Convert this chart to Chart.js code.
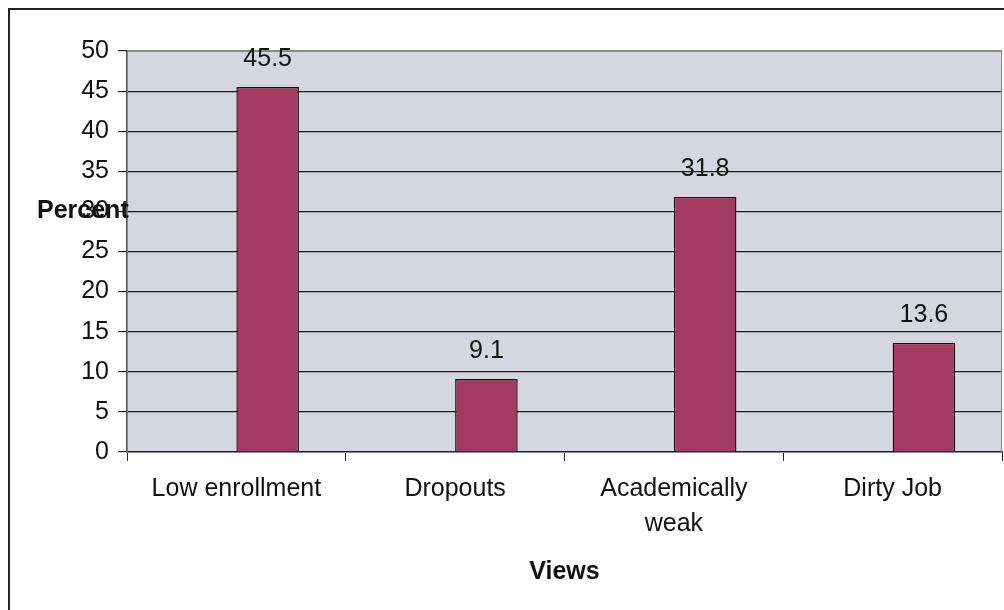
<!DOCTYPE html>
<html>
<head>
<meta charset="utf-8">
<script src="https://cdn.jsdelivr.net/npm/chart.js@4/dist/chart.umd.min.js"></script>
<style>
  html, body { margin: 0; padding: 0; background: #fff; }
  #wrap { position: relative; width: 1004px; height: 610px; overflow: hidden; }
  #frame { position: absolute; left: 8px; top: 8px; width: 1010px; height: 620px;
           border-left: 2px solid #222; border-top: 2px solid #222; box-sizing: border-box; }
  canvas { position: absolute; left: 0; top: 0; }
</style>
</head>
<body>
<div id="wrap">
  <div id="frame"></div>
  <canvas id="chart" width="1004" height="610"></canvas>
</div>
<script>
// values
const categories = ["Low enrollment", "Dropouts", ["Academically", "weak"], "Dirty Job"];
const percents = [45.5, 9.1, 31.8, 13.6];
// the original has an empty first series, which pushes the bars right of centre
const emptySeries = [null, null, null, null];
const yTicks = [0, 5, 10, 15, 20, 25, 30, 35, 40, 45, 50];

const FONT = "'Liberation Sans', Arial, sans-serif";

// gray plot area, axis titles and the numbers on top of the bars
let extras = {
  id: 'extras',
  beforeDatasetsDraw(chart) {
    let {ctx, chartArea: a} = chart;
    ctx.save();
    ctx.strokeStyle = '#8a8a8a';
    ctx.lineWidth = 1;
    ctx.strokeRect(a.left, a.top + 0.5, a.right - a.left - 0.5, a.bottom - a.top);
    ctx.restore();
  },
  beforeDraw(chart) {
    let {ctx, chartArea: a} = chart;
    ctx.save();
    ctx.fillStyle = '#d6d6e0';
    ctx.fillRect(a.left, a.top, a.right - a.left, a.bottom - a.top);
    ctx.restore();
  },
  afterDraw(chart) {
    let ctx = chart.ctx;
    let y = chart.scales.y;
    ctx.save();
    ctx.fillStyle = '#111';
    ctx.font = '25px ' + FONT;
    ctx.textAlign = 'center';
    ctx.textBaseline = 'middle';
    let meta = chart.getDatasetMeta(1);
    meta.data.forEach((bar, i) => {
      ctx.fillText(percents[i].toFixed(1), bar.x, bar.y - 28);
    });
    ctx.font = 'bold 25px ' + FONT;
    ctx.textAlign = 'left';
    ctx.fillText('Percent', 37, y.getPixelForValue(30));
    ctx.textAlign = 'center';
    let a = chart.chartArea;
    ctx.fillText('Views', (a.left + a.right) / 2, 572);
    ctx.restore();
  }
};

new Chart(document.getElementById('chart'), {
  type: 'bar',
  data: {
    labels: categories,
    datasets: [
      {label: 'empty', data: emptySeries},
      {
        label: 'Percent',
        data: percents,
        backgroundColor: '#a33a63',
        borderColor: '#111',
        borderWidth: 1.4
      }
    ]
  },
  options: {
    responsive: false,
    animation: false,
    events: [],
    layout: {padding: {left: 0, top: 51, right: 2, bottom: 0}},
    plugins: {legend: {display: false}, tooltip: {enabled: false}},
    datasets: {bar: {categoryPercentage: 0.572, barPercentage: 1}},
    scales: {
      x: {
        afterFit(scale) { scale.height = 610 - 452 - 0; },
        border: {display: true, color: '#222', width: 1.5},
        grid: {display: true, drawOnChartArea: false, drawTicks: true, tickLength: 9, color: '#222', offset: true},
        ticks: {
          color: '#111',
          font: {family: FONT, size: 25, lineHeight: 1.4},
          padding: 11,
          maxRotation: 0,
          autoSkip: false
        }
      },
      y: {
        min: 0,
        max: 50,
        afterFit(scale) { scale.width = 127; },
        afterBuildTicks(scale) { scale.ticks = yTicks.map(v => ({value: v})); },
        border: {display: true, color: '#222', width: 1.5},
        grid: {
          color: ctx => ctx.tick && ctx.tick.value === 50 ? '#8a8a8a' : '#1a1a1a',
          lineWidth: 1.2,
          tickColor: '#222',
          tickLength: 9
        },
        ticks: {
          color: '#111',
          font: {family: FONT, size: 25},
          padding: 9
        }
      }
    }
  },
  plugins: [extras]
});
</script>
</body>
</html>
